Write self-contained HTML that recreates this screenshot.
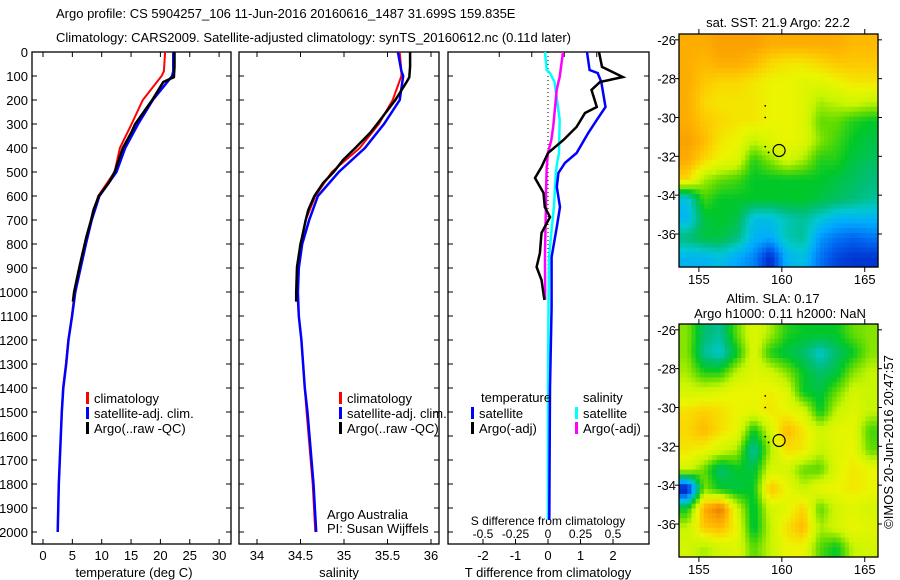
<!DOCTYPE html>
<html><head><meta charset="utf-8"><style>
html,body{margin:0;padding:0;background:#fff;}
svg{display:block;font-family:"Liberation Sans",sans-serif;}
text{font-size:13px;fill:#000;}
</style></head><body>
<svg id="chart" width="900" height="580" viewBox="0 0 900 580" xmlns="http://www.w3.org/2000/svg">
<text x="56" y="18">Argo profile: CS 5904257_106 11-Jun-2016 20160616_1487 31.699S 159.835E</text>
<text x="56" y="42">Climatology: CARS2009. Satellite-adjusted climatology: synTS_20160612.nc (0.11d later)</text>
<g id="g"></g>
</svg>
<script>
// ---------- data ----------
const depthTicks=[0,100,200,300,400,500,600,700,800,900,1000,1100,1200,1300,1400,1500,1600,1700,1800,1900,2000];
const tempTicks=[0,5,10,15,20,25,30];
const salTicks=[34,34.5,35,35.5,36];
const tdTicks=[-2,-1,0,1,2];
const sdTicks=[-0.5,-0.25,0,0.25,0.5];
const sdTickLabels=["-0.5","-0.25","0","0.25","0.5"];

const climDepth=[0,80,100,200,300,400,500,600,700,800,900,1000,1100,1200,1300,1400,1500,1800,2000];
const tempClim=[20.8,20.6,20.2,17.0,15.1,13.1,12.2,9.4,8.2,7.2,6.3,5.4,4.9,4.3,3.9,3.4,3.2,2.7,2.5];
const tempSat=[22.2,22.2,22.0,18.7,16.2,14.0,12.5,9.6,8.3,7.3,6.4,5.5,4.95,4.35,3.95,3.45,3.2,2.7,2.5];
const salClim=[35.64,35.66,35.66,35.56,35.40,35.18,34.86,34.67,34.56,34.50,34.47,34.46,34.48,34.51,34.53,34.55,34.57,34.64,34.67];
const salSat=[35.62,35.66,35.68,35.64,35.46,35.24,34.94,34.70,34.60,34.52,34.48,34.47,34.48,34.51,34.53,34.55,34.58,34.65,34.68];

const argoDepth=[0,60,105,125,200,300,337,400,450,500,546,600,658,700,770,800,896,1000,1040];
const tempArgo=[22.4,22.4,22.3,20.5,18.6,15.7,15.0,13.6,12.9,12.2,11.2,9.5,8.6,8.2,7.4,7.1,6.2,5.3,5.1];
const salArgo=[35.76,35.76,35.75,35.72,35.59,35.38,35.30,35.13,34.99,34.88,34.76,34.66,34.59,34.56,34.52,34.50,34.46,34.45,34.45];

const diffDepth=[0,62,104,125,158,229,254,312,367,421,479,525,587,646,688,754,838,896,950,1033];
const tDiffArgo=[1.57,1.66,2.3,1.6,1.34,1.5,1.14,0.88,0.47,0.0,-0.2,-0.4,-0.14,-0.1,0.06,-0.2,-0.25,-0.35,-0.2,-0.11];
const sDiffArgo=[0.115,0.1,0.09,0.08,0.067,0.055,0.05,0.04,0.025,0.0,-0.01,-0.012,-0.015,-0.015,-0.018,-0.02,-0.023,-0.023,-0.022,-0.022];
const satDiffDepth=[0,75,88,125,229,283,337,421,462,504,562,646,729,854,1062,1400,1700,1950];
const tDiffSat=[1.2,1.28,1.53,1.64,1.77,1.5,1.24,0.88,0.52,0.32,0.27,0.37,0.27,0.11,0.11,0.06,0.05,0.04];
const sDiffSat=[-0.023,-0.01,0.015,0.05,0.077,0.09,0.088,0.085,0.07,0.06,0.055,0.045,0.03,0.008,0.004,0.0,0.0,0.0];

const mapLonTicks=[155,160,165];
const mapLatTicks=[-26,-28,-30,-32,-34,-36];
const sstGrid=[
[0.78,0.78,0.8,0.8,0.8,0.78,0.78,0.78,0.78,0.78,0.76,0.76],
[0.78,0.76,0.78,0.78,0.76,0.72,0.7,0.7,0.72,0.74,0.74,0.74],
[0.78,0.74,0.72,0.72,0.7,0.68,0.68,0.66,0.66,0.68,0.7,0.7],
[0.78,0.72,0.7,0.7,0.7,0.68,0.68,0.66,0.6,0.62,0.64,0.62],
[0.78,0.74,0.72,0.7,0.7,0.68,0.68,0.66,0.56,0.56,0.52,0.5],
[0.8,0.76,0.7,0.68,0.62,0.66,0.68,0.66,0.58,0.54,0.5,0.48],
[0.78,0.72,0.68,0.66,0.52,0.58,0.64,0.6,0.52,0.52,0.48,0.46],
[0.72,0.6,0.56,0.54,0.5,0.5,0.5,0.5,0.5,0.48,0.46,0.44],
[0.36,0.54,0.5,0.5,0.5,0.5,0.5,0.5,0.48,0.46,0.44,0.42],
[0.34,0.48,0.5,0.48,0.36,0.36,0.4,0.42,0.38,0.34,0.34,0.34],
[0.44,0.48,0.48,0.44,0.34,0.32,0.4,0.42,0.3,0.26,0.24,0.26],
[0.34,0.34,0.36,0.32,0.28,0.16,0.34,0.36,0.26,0.2,0.18,0.18]];
const slaGrid=[
[0.58,0.45,0.42,0.56,0.66,0.6,0.52,0.5,0.5,0.5,0.56,0.58],
[0.58,0.42,0.38,0.5,0.66,0.52,0.48,0.45,0.38,0.45,0.5,0.58],
[0.6,0.52,0.52,0.62,0.66,0.64,0.58,0.5,0.45,0.48,0.58,0.62],
[0.64,0.64,0.66,0.68,0.68,0.69,0.66,0.5,0.48,0.56,0.64,0.62],
[0.71,0.73,0.71,0.68,0.67,0.7,0.68,0.65,0.5,0.62,0.66,0.62],
[0.72,0.76,0.71,0.68,0.5,0.64,0.76,0.7,0.64,0.67,0.67,0.54],
[0.7,0.68,0.64,0.6,0.4,0.6,0.71,0.7,0.62,0.66,0.68,0.56],
[0.64,0.56,0.44,0.5,0.48,0.64,0.64,0.56,0.55,0.66,0.7,0.68],
[0.12,0.58,0.5,0.48,0.5,0.75,0.68,0.62,0.68,0.68,0.7,0.68],
[0.5,0.78,0.86,0.64,0.48,0.64,0.66,0.73,0.55,0.64,0.66,0.64],
[0.62,0.74,0.76,0.68,0.48,0.62,0.71,0.76,0.6,0.64,0.68,0.66],
[0.64,0.6,0.64,0.66,0.55,0.62,0.68,0.68,0.55,0.5,0.62,0.64]];
const floatLon=159.835, floatLat=-31.699;
const trackLon=[159.0,159.0,159.0,159.2];
const trackLat=[-29.4,-30.0,-31.5,-31.8];

// ---------- drawing ----------
const NS="http://www.w3.org/2000/svg";
const G=document.getElementById('g');
function el(tag,attrs,parent){const e=document.createElementNS(NS,tag);for(const k in attrs)e.setAttribute(k,attrs[k]);(parent||G).appendChild(e);return e;}
function txt(x,y,s,anchor,parent){const t=el('text',{x:x,y:y,'text-anchor':anchor||'start'},parent);t.textContent=s;return t;}

const PT=52,PB=544;
const yD=d=>PT+d*0.24;
const xT=v=>43+v*5.87;
const xS=v=>257+(v-34)*87;
const xTD=v=>548+v*32.5;
const xSD=v=>548+v*130;
const panels=[[32,231],[239,439],[448,649]];

panels.forEach((p,i)=>{
  const r=el('rect',{x:p[0],y:PT,width:p[1]-p[0],height:PB-PT,fill:'none',stroke:'#000','stroke-width':1.3});
  
  
  depthTicks.forEach(d=>{
    el('line',{x1:p[0],x2:p[0]+5,y1:yD(d),y2:yD(d),stroke:'#000'});
    el('line',{x1:p[1]-5,x2:p[1],y1:yD(d),y2:yD(d),stroke:'#000'});
  });
});
depthTicks.forEach(d=>{const t=txt(28,yD(d)+5,String(d),'end');});

function xticks(ticks,fx,labels,ly){
  ticks.forEach((v,i)=>{const x=fx(v);
    el('line',{x1:x,x2:x,y1:PT,y2:PT+5,stroke:'#000'});
    el('line',{x1:x,x2:x,y1:PB-5,y2:PB,stroke:'#000'});
    const t=txt(x,ly,labels?labels[i]:String(v),'middle');
    
    
  });
}
xticks(tempTicks,xT,null,560);
xticks(salTicks,xS,null,560);
txt(134,577,'temperature (deg C)','middle');
txt(339,577,'salinity','middle');
// diff panel axes
tdTicks.forEach(v=>{const x=xTD(v);el('line',{x1:x,x2:x,y1:PB-5,y2:PB,stroke:'#000'});
  const t=txt(x,560,String(v),'middle');});
[-1.5,-0.5,0.5,1.5].forEach(v=>{const x=xTD(v);el('line',{x1:x,x2:x,y1:PT,y2:PT+5,stroke:'#000'});});
sdTicks.forEach((v,i)=>{const x=xSD(v);el('line',{x1:x,x2:x,y1:PB-4,y2:PB,stroke:'#000'});
  const t=txt(x,PB-6,sdTickLabels[i],'middle');t.setAttribute('style','font-size:12px');});
const st=txt(548,525,'S difference from climatology','middle');
st.setAttribute('style','font-size:12px');

txt(548,577,'T difference from climatology','middle');
el('line',{x1:548,x2:548,y1:PT,y2:PB-30,stroke:'#000','stroke-dasharray':'1,3'});

function series(depths,vals,fx,color,w,name){
  const pts=depths.map((d,i)=>fx(vals[i]).toFixed(1)+','+yD(d).toFixed(1)).join(' ');
  const pl=el('polyline',{points:pts,fill:'none',stroke:color,'stroke-width':w,'stroke-linejoin':'miter'});
  
  
}
series(climDepth,tempClim,xT,'#f00',2,'temp-climatology-line');
series(climDepth,tempSat,xT,'#00f',2.5,'temp-satellite-line');
series(argoDepth,tempArgo,xT,'#000',2.5,'temp-argo-line');
series(climDepth,salClim,xS,'#f00',2,'sal-climatology-line');
series(climDepth,salSat,xS,'#00f',2.5,'sal-satellite-line');
series(argoDepth,salArgo,xS,'#000',2.5,'sal-argo-line');
series(satDiffDepth,sDiffSat,xSD,'#0ff',2.5,'s-diff-satellite-line');
series(diffDepth,sDiffArgo,xSD,'#f0f',2.5,'s-diff-argo-line');
series(satDiffDepth,tDiffSat,xTD,'#00f',2.5,'t-diff-satellite-line');
series(diffDepth,tDiffArgo,xTD,'#000',2.5,'t-diff-argo-line');

function legendEntry(x,y,color,label,name){
  const g=el('g',{});
  
  
  el('rect',{x:x,y:y-10,width:3,height:12,fill:color},g);
  if(label) txt(x+8,y+1,label,'start',g);
}
[[86,'#f00','climatology'],[86,'#00f','satellite-adj. clim.'],[86,'#000','Argo(..raw -QC)']].forEach((e,i)=>legendEntry(e[0],402+i*15,e[1],e[2],'temp-legend-entry'));
[[339,'#f00','climatology'],[339,'#00f','satellite-adj. clim.'],[339,'#000','Argo(..raw -QC)']].forEach((e,i)=>legendEntry(e[0],402+i*15,e[1],e[2],'sal-legend-entry'));
txt(481,402,'temperature');
txt(583,402,'salinity');
legendEntry(471,417,'#00f','satellite','diff-legend-t-satellite');
legendEntry(471,432,'#000','Argo(-adj)','diff-legend-t-argo');
legendEntry(575,417,'#0ff','satellite','diff-legend-s-satellite');
legendEntry(575,432,'#f0f','Argo(-adj)','diff-legend-s-argo');
txt(327,519,'Argo Australia');
txt(327,533,'PI: Susan Wijffels');

// ---------- maps ----------
const cmapStops=[[0,0,0,130],[0.1,0,0,160],[0.16,0,40,200],[0.24,0,100,240],[0.32,0,170,255],[0.38,0,200,210],[0.44,0,190,120],[0.5,0,200,40],[0.56,100,220,0],[0.62,200,245,0],[0.68,235,245,0],[0.72,250,215,0],[0.76,255,185,0],[0.8,250,160,0],[0.88,225,110,0],[1,200,40,0]];
function cmap(t){
  t=Math.max(0,Math.min(1,t));
  for(let k=1;k<cmapStops.length;k++){const a=cmapStops[k-1],b=cmapStops[k];
    if(t<=b[0]){const f=(t-a[0])/(b[0]-a[0]);
      return 'rgb('+[1,2,3].map(c=>Math.round(a[c]+(b[c]-a[c])*f)).join(',')+')';}}
  return 'rgb(200,40,0)';
}
function drawMap(grid,top,bottom,name){
  const L=679,R=878,lon0=153.8,lon1=165.8,lat0=-25.7,lat1=-37.7;
  const fx=lo=>L+(lo-lon0)/(lon1-lon0)*(R-L);
  const fy=la=>top+(la-lat0)/(lat1-lat0)*(bottom-top);
  const g=el('g',{});
  
  
  const N=grid.length,M=grid[0].length,S=4;
  for(let i=0;i<N*S;i++)for(let j=0;j<M*S;j++){
    const gy=Math.min(N-1,Math.max(0,(i+0.5)/S-0.5)),gx=Math.min(M-1,Math.max(0,(j+0.5)/S-0.5));
    const i0=Math.floor(gy),j0=Math.floor(gx),i1=Math.min(N-1,i0+1),j1=Math.min(M-1,j0+1),fy2=gy-i0,fx2=gx-j0;
    const v=grid[i0][j0]*(1-fy2)*(1-fx2)+grid[i0][j1]*(1-fy2)*fx2+grid[i1][j0]*fy2*(1-fx2)+grid[i1][j1]*fy2*fx2;
    const x0=fx(lon0+j/S),x1=fx(lon0+(j+1)/S),y0=fy(lat0-i/S),y1=fy(lat0-(i+1)/S);
    el('rect',{x:x0.toFixed(2),y:y0.toFixed(2),width:(x1-x0+0.6).toFixed(2),height:(y1-y0+0.6).toFixed(2),fill:cmap(v)},g);
  }
  el('rect',{x:L,y:top,width:R-L,height:bottom-top,fill:'none',stroke:'#000','stroke-width':1.3},g);
  mapLonTicks.forEach(v=>{const x=fx(v);el('line',{x1:x,x2:x,y1:top-5,y2:top,stroke:'#000'},g);el('line',{x1:x,x2:x,y1:bottom,y2:bottom+5,stroke:'#000'},g);
    txt(x,bottom+17,String(v),'middle',g);});
  mapLatTicks.forEach(v=>{const y=fy(v);el('line',{x1:L-4,x2:L,y1:y,y2:y,stroke:'#000'},g);el('line',{x1:R,x2:R+4,y1:y,y2:y,stroke:'#000'},g);
    txt(L-3,y+5,String(v),'end',g);});
  trackLon.forEach((lo,i)=>el('circle',{cx:fx(lo),cy:fy(trackLat[i]),r:0.9,fill:'#000'},g));
  const c=el('circle',{cx:fx(floatLon),cy:fy(floatLat),r:6,fill:'none',stroke:'#000','stroke-width':1.2},g);
  
  
}
drawMap(sstGrid,34,267,'sst-map');
drawMap(slaGrid,324,557,'sla-map');
txt(778,27,'sat. SST: 21.9  Argo: 22.2','middle');
txt(773,303,'Altim. SLA: 0.17','middle');
txt(780,318,'Argo h1000: 0.11 h2000: NaN','middle');
const im=txt(0,0,'©IMOS 20-Jun-2016 20:47:57','middle');
im.setAttribute('transform','translate(893,442) rotate(-90)');


</script>
</body></html>
